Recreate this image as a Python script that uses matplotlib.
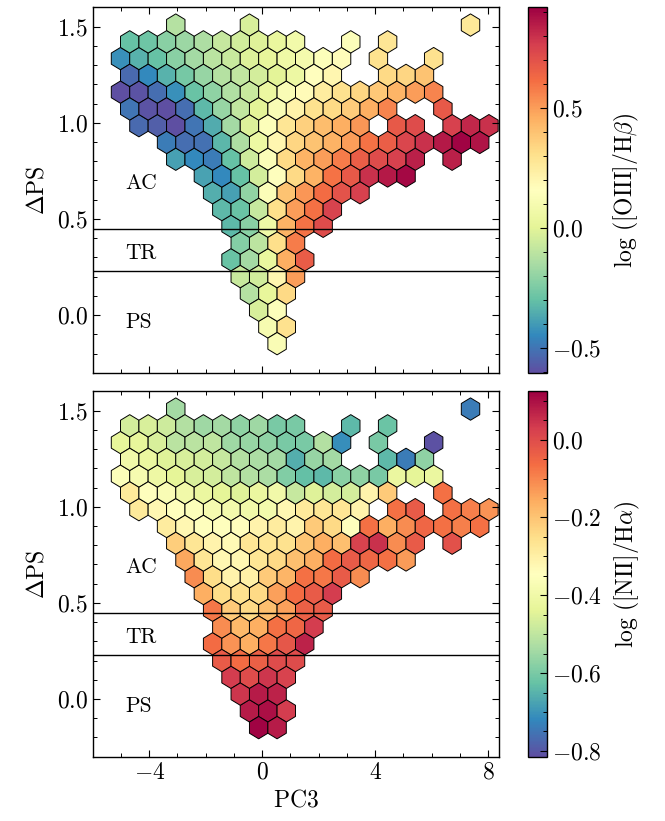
import matplotlib
matplotlib.use("Agg")
import matplotlib.pyplot as plt
from matplotlib.ticker import MultipleLocator

plt.rcParams.update({
    "font.family": "serif",
    "font.serif": ["cmr10"],
    "mathtext.fontset": "cm",
    "axes.formatter.use_mathtext": True,
    "font.size": 17,
    "axes.linewidth": 1.0,
    "xtick.direction": "in", "ytick.direction": "in",
    "xtick.top": True, "ytick.right": True,
    "xtick.major.size": 5, "ytick.major.size": 5,
    "xtick.minor.size": 3, "ytick.minor.size": 3,
    "xtick.major.width": 0.8, "ytick.major.width": 0.8,
    "xtick.minor.width": 0.7, "ytick.minor.width": 0.7,
    "xtick.minor.visible": True, "ytick.minor.visible": True,
})

# hexagon lattice (PC3, dPS): column c steps half a hex, row r steps half a period
HEX_W = 0.652
HEX_P = 0.1744
X0 = -3.06
Y_TOP = 1.508

# rows top -> bottom: (first column, values every second column, '.' = empty)
oiii_rows = [
    (0, "-.12 . . . -.03 . . . . . . . . . . . .27"),
    (-5, "-.30 -.28 -.22 -.18 -.14 -.08 -.05 -.01 .03 .08 . . .14 . .28"),
    (-6, "-.43 -.34 -.30 -.22 -.16 -.11 -.07 -.02 .02 .06 .09 .14 .17 . .30 . . .30"),
    (-5, "-.53 -.45 -.34 -.26 -.19 -.12 -.09 -.04 .00 .05 .16 .20 . . .33 .34 .40"),
    (-6, "-.60 -.59 -.52 -.43 -.29 -.21 -.13 -.07 .04 .12 .18 .25 .30 .34 .38 .44 .50 .56"),
    (-5, "-.50 -.59 -.60 -.52 -.32 -.19 -.09 .00 .12 .22 .30 .33 .37 .46 .56 . . .68"),
    (-4, "-.53 -.56 -.60 -.50 -.36 -.16 -.02 .14 .28 .36 .42 .46 .52 . .68 .72 . .76 .82 .80"),
    (-1, "-.48 -.52 -.51 -.33 -.14 .05 .20 .34 .40 .45 .50 .60 .66 .74 .80 .86 .91 .87"),
    (0, "-.39 -.45 -.48 -.30 -.06 .13 .33 .45 .50 .58 .66 .72 .76 .84 . .84"),
    (3, "-.38 -.45 -.30 -.04 .15 .33 .45 .60 .68 .80 .86 .90"),
    (4, "-.35 -.39 -.20 .13 .40 .52 .62 .70 .76"),
    (5, "-.32 -.29 -.08 .31 .50 .61 .75"),
    (6, "-.32 -.22 .06 .45 .60 .72"),
    (7, "-.23 -.10 .31 .58"),
    (6, "-.29 -.16 .03 .46 .67"),
    (7, "-.07 -.05 .20 .50"),
    (8, "-.12 .02 .33"),
    (9, "-.03 .14"),
    (10, ".10 .30"),
    (11, ".12"),
]

nii_rows = [
    (0, "-.54 . . . . . . . . . . . . . . . -.74"),
    (-5, "-.47 -.46 -.48 -.52 -.55 -.54 -.57 -.55 -.60 -.60 . . -.64 . -.62"),
    (-6, "-.43 -.43 -.46 -.51 -.51 -.50 -.55 -.56 -.57 -.60 -.60 -.52 -.71 . -.60 . . -.81"),
    (-5, "-.40 -.42 -.45 -.46 -.47 -.49 -.52 -.53 -.54 -.66 -.56 -.54 . . -.64 -.74 -.57"),
    (-6, "-.36 -.38 -.41 -.44 -.46 -.47 -.50 -.52 -.53 -.59 -.63 -.64 -.58 -.57 -.60 -.42 -.44 -.42"),
    (-5, "-.28 -.35 -.37 -.40 -.42 -.44 -.45 -.42 -.40 -.49 -.45 -.47 -.47 -.31 -.21 . . -.07"),
    (-4, "-.28 -.32 -.35 -.36 -.38 -.39 -.40 -.39 -.32 -.28 -.27 -.27 -.31 . -.07 -.03 . -.07 -.09 -.12"),
    (-1, "-.29 -.32 -.35 -.35 -.34 -.31 -.29 -.31 -.21 -.24 -.35 -.07 -.16 -.11 -.05 -.07 -.09 -.07"),
    (0, "-.22 -.27 -.31 -.33 -.27 -.27 -.26 -.20 -.16 -.19 .02 .05 -.11 -.03 . -.01"),
    (1, "-.15 -.27 -.32 -.32 -.27 -.24 -.19 -.16 -.06 -.03 -.05 -.07 -.13"),
    (2, "-.11 -.25 -.31 -.30 -.21 -.17 -.07 -.08 -.03 -.11"),
    (3, "-.16 -.25 -.26 -.24 -.14 -.06 -.03 .03"),
    (4, "-.08 -.21 -.24 -.19 -.14 -.04 -.03"),
    (5, "-.11 -.18 -.16 -.07 -.05 .03"),
    (4, "-.06 -.12 -.16 -.08 -.02 .07"),
    (5, "-.03 -.06 -.04 .00 .00"),
    (6, ".03 .00 .04 .02"),
    (7, ".04 .08 .07"),
    (8, ".08 .10 .03"),
    (9, ".12 .08"),
]

thresholds = [0.45, 0.23]
regions = [("AC", 0.685), ("TR", 0.32), ("PS", -0.04)]


def unpack(rows):
    xs, ys, cs = [], [], []
    for r, (c0, vals) in enumerate(rows):
        for k, tok in enumerate(vals.split()):
            if tok == ".":
                continue
            c = c0 + 2 * k
            xs.append(X0 + c * HEX_W / 2)
            ys.append(Y_TOP - r * HEX_P / 2)
            cs.append(float(tok))
    return xs, ys, cs


nx, ny = 23, 10
xmin = X0 - 5 * HEX_W
ymin = Y_TOP - ny * HEX_P
extent = (xmin, xmin + nx * HEX_W, ymin, Y_TOP)

fig = plt.figure(figsize=(6.65, 8.21), dpi=100)
panels = [
    (oiii_rows, (-0.605, 0.921), 0.5, 0.1, r"$\log\,([\mathrm{OIII}]/\mathrm{H}\beta)$", 0.546),
    (nii_rows, (-0.815, 0.124), 0.2, 0.05, r"$\log\,([\mathrm{NII}]/\mathrm{H}\alpha)$", 0.0783),
]

for i, (rows, (vmin, vmax), cmaj, cmin, clabel, bottom) in enumerate(panels):
    ax = fig.add_axes([0.1394, bottom, 0.6114, 0.445])
    cax = fig.add_axes([0.7944, bottom, 0.0277, 0.445])
    x, y, c = unpack(rows)
    hb = ax.hexbin(x, y, C=c, gridsize=(nx, ny), extent=extent, mincnt=1,
                   cmap="Spectral_r", vmin=vmin, vmax=vmax,
                   edgecolors="black", linewidths=0.7)
    for t in thresholds:
        ax.axhline(t, color="black", lw=1.0)
    for name, ty in regions:
        ax.text(-4.85, ty, name, fontsize=15.5, ha="left", va="center")
    ax.set_xlim(-6.0, 8.39)
    ax.set_ylim(-0.3, 1.6)
    ax.xaxis.set_major_locator(MultipleLocator(4))
    ax.xaxis.set_minor_locator(MultipleLocator(1))
    ax.yaxis.set_major_locator(MultipleLocator(0.5))
    ax.yaxis.set_minor_locator(MultipleLocator(0.1))
    ax.set_ylabel(r"$\Delta\mathrm{PS}$", labelpad=6)
    if i == 0:
        ax.tick_params(labelbottom=False)
    else:
        ax.set_xlabel(r"$\mathrm{PC3}$")

    cb = fig.colorbar(hb, cax=cax)
    cb.outline.set_linewidth(1.0)
    cb.ax.yaxis.set_major_locator(MultipleLocator(cmaj))
    cb.ax.yaxis.set_minor_locator(MultipleLocator(cmin))
    cb.ax.tick_params(which="both", direction="in")
    cb.set_label(clabel, labelpad=8)

fig.savefig("out.png", dpi=100)
